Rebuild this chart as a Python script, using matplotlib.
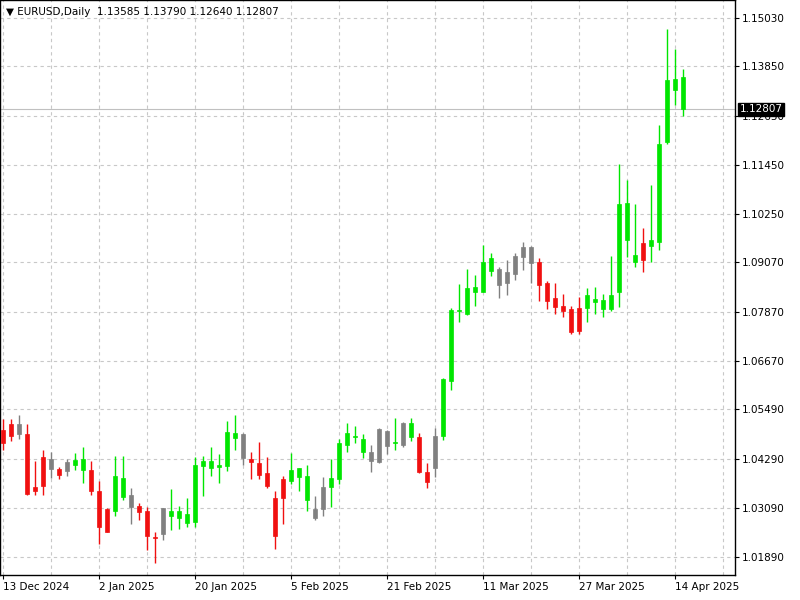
import numpy as np
import matplotlib
matplotlib.use("Agg")
import matplotlib.pyplot as plt
import matplotlib.transforms as mtransforms

# daily EURUSD candles, 13 Dec 2024 .. 15 Apr 2025
opens = [1.0498, 1.0512, 1.0489, 1.0490, 1.0360, 1.0433, 1.0404, 1.0404, 1.0398, 1.0414,
         1.0400, 1.0400, 1.0351, 1.0306, 1.0300, 1.0336, 1.0312, 1.0314, 1.0300, 1.0237,
         1.0245, 1.0288, 1.0283, 1.0273, 1.0275, 1.0410, 1.0405, 1.0408, 1.0410, 1.0480,
         1.0431, 1.0428, 1.0417, 1.0394, 1.0333, 1.0380, 1.0374, 1.0384, 1.0327, 1.0284,
         1.0307, 1.0359, 1.0380, 1.0462, 1.0482, 1.0445, 1.0424, 1.0420, 1.0459, 1.0468,
         1.0463, 1.0481, 1.0482, 1.0396, 1.0405, 1.0483, 1.0617, 1.0788, 1.0781, 1.0835,
         1.0835, 1.0887, 1.0852, 1.0856, 1.0880, 1.0921, 1.0905, 1.0909, 1.0858, 1.0821,
         1.0802, 1.0793, 1.0797, 1.0797, 1.0810, 1.0793, 1.0793, 1.0836, 1.0961, 1.0909,
         1.0954, 1.0946, 1.0956, 1.1201, 1.1328, 1.13585]
highs = [1.0525, 1.0525, 1.0534, 1.0512, 1.0422, 1.0449, 1.0445, 1.0409, 1.0428, 1.0443,
         1.0458, 1.0424, 1.0375, 1.0308, 1.0435, 1.0435, 1.0357, 1.0321, 1.0312, 1.0251,
         1.0308, 1.0355, 1.0314, 1.0332, 1.0433, 1.0436, 1.0458, 1.0439, 1.0520, 1.0534,
         1.0492, 1.0445, 1.0469, 1.0433, 1.0351, 1.0386, 1.0443, 1.0406, 1.0412, 1.0337,
         1.0384, 1.0429, 1.0476, 1.0515, 1.0508, 1.0488, 1.0461, 1.0504, 1.0498, 1.0529,
         1.0519, 1.0529, 1.0492, 1.0418, 1.0504, 1.0626, 1.0797, 1.0854, 1.0891, 1.0876,
         1.0949, 1.0931, 1.0897, 1.0913, 1.0930, 1.0956, 1.0946, 1.0917, 1.0862, 1.0858,
         1.0831, 1.0801, 1.0823, 1.0846, 1.0848, 1.0831, 1.0923, 1.1146, 1.1108, 1.1050,
         1.0991, 1.1095, 1.1241, 1.1476, 1.1427, 1.13790]
lows = [1.0451, 1.0471, 1.0477, 1.0339, 1.0341, 1.0339, 1.0382, 1.0379, 1.0386, 1.0400,
        1.0369, 1.0339, 1.0221, 1.0249, 1.0290, 1.0329, 1.0269, 1.0279, 1.0206, 1.0174,
        1.0231, 1.0254, 1.0257, 1.0261, 1.0261, 1.0337, 1.0387, 1.0369, 1.0399, 1.0449,
        1.0412, 1.0379, 1.0380, 1.0357, 1.0209, 1.0270, 1.0368, 1.0351, 1.0300, 1.0280,
        1.0290, 1.0312, 1.0368, 1.0445, 1.0466, 1.0431, 1.0396, 1.0417, 1.0440, 1.0449,
        1.0458, 1.0471, 1.0394, 1.0357, 1.0384, 1.0475, 1.0597, 1.0762, 1.0778, 1.0801,
        1.0834, 1.0873, 1.0821, 1.0828, 1.0864, 1.0889, 1.0858, 1.0812, 1.0794, 1.0781,
        1.0775, 1.0732, 1.0732, 1.0762, 1.0782, 1.0775, 1.0789, 1.0799, 1.0920, 1.0897,
        1.0885, 1.0909, 1.0938, 1.1197, 1.1290, 1.12640]
closes = [1.0467, 1.0485, 1.0512, 1.0343, 1.0349, 1.0361, 1.0428, 1.0388, 1.0420, 1.0426,
          1.0428, 1.0351, 1.0261, 1.0251, 1.0387, 1.0382, 1.0341, 1.0298, 1.0240, 1.0236,
          1.0308, 1.0302, 1.0302, 1.0294, 1.0412, 1.0424, 1.0424, 1.0414, 1.0494, 1.0492,
          1.0490, 1.0420, 1.0390, 1.0363, 1.0241, 1.0333, 1.0400, 1.0405, 1.0386, 1.0307,
          1.0360, 1.0382, 1.0466, 1.0492, 1.0484, 1.0476, 1.0445, 1.0502, 1.0496, 1.0470,
          1.0515, 1.0515, 1.0396, 1.0371, 1.0485, 1.0622, 1.0790, 1.0790, 1.0846, 1.0847,
          1.0909, 1.0917, 1.0891, 1.0883, 1.0922, 1.0944, 1.0944, 1.0852, 1.0813, 1.0798,
          1.0789, 1.0737, 1.0740, 1.0828, 1.0818, 1.0816, 1.0828, 1.1050, 1.1052, 1.0925,
          1.0912, 1.0962, 1.1195, 1.1352, 1.1354, 1.12807]
# g = green, r = red, n = grey, as the terminal painted them
kinds = list("rrnrrrnrnggrrrggnrrrnggggggggg"
             "nrrrrrgggnngggggnnngngrrn"
             "gggggggnnnnnrrrrrrgggggggrggggg")

price_ticks = [1.15030, 1.13850, 1.12650, 1.11450, 1.10250, 1.09070, 1.07870,
               1.06670, 1.05490, 1.04290, 1.03090, 1.01890]
date_pos = [0, 12, 24, 36, 48, 60, 72, 84]
date_labels = ["13 Dec 2024", "2 Jan 2025", "20 Jan 2025", "5 Feb 2025",
               "21 Feb 2025", "11 Mar 2025", "27 Mar 2025", "14 Apr 2025"]
last_price = 1.12807

palette = {"g": "#00e600", "r": "#f01010", "n": "#808080"}

fig = plt.figure(figsize=(8, 6), dpi=100)
ax = fig.add_axes([0, 25 / 600, 735 / 800, 575 / 600])

o = np.array(opens)
c = np.array(closes)
x = np.arange(len(o))
cols = [palette[k] for k in kinds]

ax.vlines(x, lows, highs, colors=cols, linewidth=1, zorder=2)
bottom = np.minimum(o, c)
height = np.maximum(np.abs(c - o), 0.00005)
ax.bar(x, height, bottom=bottom, width=0.6, color=cols, edgecolor=cols,
       linewidth=0.5, zorder=3)

ax.set_xlim(-0.375, 91.5)
ax.set_ylim(1.0145, 1.1547)

# grid
for gx in range(0, 92, 6):
    ax.axvline(gx, color="#c8c8c8", linestyle=(0, (3, 3)), linewidth=0.8, zorder=0)
for gy in price_ticks:
    ax.axhline(gy, color="#c8c8c8", linestyle=(0, (3, 3)), linewidth=0.8, zorder=0)
ax.axhline(last_price, color="#c0c0c0", linewidth=0.8, zorder=1)

ax.yaxis.tick_right()
ax.set_yticks(price_ticks)
ax.set_yticklabels(["%.5f" % v for v in price_ticks], fontsize=7.5)
ax.set_xticks(date_pos)
ax.set_xticklabels(date_labels, fontsize=7.5, ha="left")
ax.tick_params(axis="both", length=3, pad=2, colors="black")
for s in ax.spines.values():
    s.set_color("black")
    s.set_linewidth(1)

trans = mtransforms.blended_transform_factory(ax.transAxes, ax.transData)
ax.text(1.006, last_price, "%.5f" % last_price, transform=trans, fontsize=7.5,
        color="white", va="center", ha="left",
        bbox=dict(boxstyle="square,pad=0.15", fc="black", ec="black"))

fig.text(6 / 800, 1 - 12 / 600,
         "\u25BC EURUSD,Daily  1.13585 1.13790 1.12640 1.12807",
         fontsize=7.5, va="center", ha="left")

fig.savefig("out.png", dpi=100)
